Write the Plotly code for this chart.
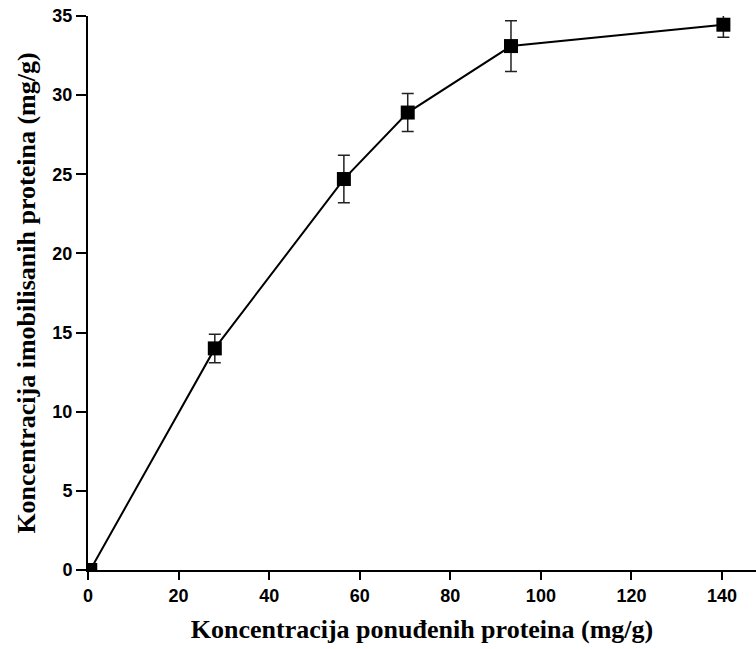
import plotly.graph_objects as go

x_offered = [0.5, 28.0, 56.5, 70.6, 93.4, 140.3]
y_immobilized = [0.0, 14.0, 24.7, 28.9, 33.1, 34.45]
y_error = [0.0, 0.9, 1.5, 1.2, 1.6, 0.8]

x_title = "Koncentracija ponuđenih proteina (mg/g)"
y_title = "Koncentracija imobilisanih proteina (mg/g)"

fig = go.Figure()
fig.add_trace(go.Scatter(
    x=x_offered, y=y_immobilized,
    mode="lines+markers",
    line=dict(color="black", width=2),
    marker=dict(symbol="square", size=14, color="black"),
    error_y=dict(type="data", array=y_error, visible=True, color="#222",
                 thickness=1.5, width=6),
    showlegend=False,
))

tick_font = dict(family="Liberation Sans, Arial", size=18, color="black", weight="bold")
title_font = dict(family="Liberation Serif, Times New Roman", size=26, color="black", weight="bold")

fig.update_layout(
    width=756, height=649,
    margin=dict(l=88, r=0, t=16, b=79),
    plot_bgcolor="white", paper_bgcolor="white",
    xaxis=dict(
        range=[0, 147.5], tickvals=[0, 20, 40, 60, 80, 100, 120, 140],
        showgrid=False, zeroline=False, showline=True, linecolor="black", linewidth=2,
        ticks="outside", ticklen=8, tickwidth=2, tickcolor="black",
        tickfont=tick_font, automargin=False, ticklabeloverflow="allow",
        title=dict(text=x_title, font=title_font, standoff=15),
    ),
    yaxis=dict(
        range=[0, 35], tickvals=[0, 5, 10, 15, 20, 25, 30, 35],
        showgrid=False, zeroline=False, showline=True, linecolor="black", linewidth=2,
        ticks="outside", ticklen=10, tickwidth=2, tickcolor="black",
        tickfont=tick_font, automargin=False, ticklabeloverflow="allow",
        title=dict(text=y_title, font=title_font, standoff=9),
    ),
)

fig.write_html("out.html", config={"displayModeBar": False},
               post_script="document.body.style.margin='0';")
